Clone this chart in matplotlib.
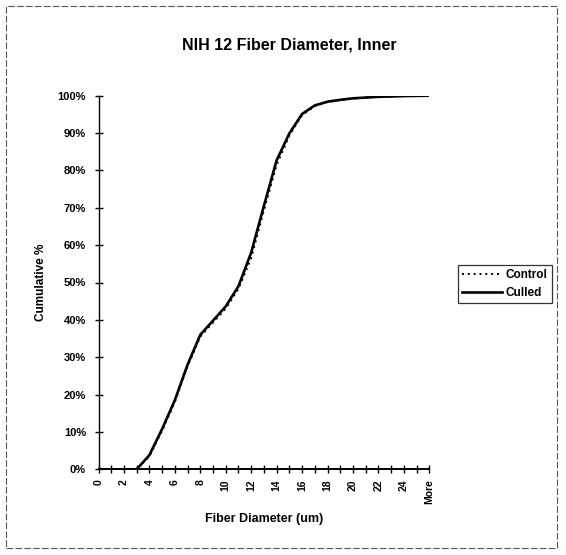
import matplotlib
matplotlib.use('Agg')
import matplotlib.pyplot as plt
from matplotlib.patches import Rectangle
from matplotlib.ticker import FuncFormatter

# bins of the histogram (Excel category axis) and cumulative percentages
categories = [str(i) for i in range(26)] + ['More']
control = [0, 0, 0, 0, 3.5, 10.3, 18.0, 27.5, 35.5, 39.3, 43.0, 48.3, 56.5, 69.3,
           81.5, 89.3, 94.8, 97.2, 98.3, 98.8, 99.2, 99.5, 99.7, 99.8, 99.9, 99.95, 100]
culled = [0, 0, 0, 0, 3.8, 10.8, 18.5, 28.0, 36.0, 39.8, 43.6, 49.0, 58.0, 70.5,
          82.7, 89.9, 95.1, 97.4, 98.4, 98.9, 99.3, 99.5, 99.7, 99.8, 99.9, 99.95, 100]
yticks = list(range(0, 101, 10))

plt.rcParams['font.family'] = ['Liberation Sans', 'DejaVu Sans']
plt.rcParams['font.weight'] = 'bold'

fig = plt.figure(figsize=(5.66, 5.55), dpi=100)
ax = fig.add_axes([98.5 / 566, 1 - 469.3 / 555, (429.3 - 98.5) / 566, (469.3 - 95.7) / 555])

x = list(range(len(categories)))
ax.plot(x, control, color='black', lw=1.4, ls=(0, (1, 2)), label='Control')
ax.plot(x, culled, color='black', lw=1.9, label='Culled')

ax.set_xlim(0, len(categories) - 1)
ax.set_ylim(0, 100)
ax.set_xticks(x)
ax.set_xticklabels([c if i % 2 == 0 else '' for i, c in enumerate(categories)],
                   rotation=90, fontsize=7.5, fontweight='bold')
ax.set_yticks(yticks)
ax.yaxis.set_major_formatter(FuncFormatter(lambda v, p: '%d%%' % v))
ax.tick_params(axis='x', direction='inout', length=6, width=1, pad=4)
ax.tick_params(axis='y', direction='inout', length=6, width=1, labelsize=8, pad=6)
for lab in ax.get_yticklabels():
    lab.set_fontweight('bold')

for s in ['top', 'right']:
    ax.spines[s].set_visible(False)
ax.spines['left'].set_linewidth(1)
ax.spines['bottom'].set_linewidth(1.4)

ax.set_xlabel('Fiber Diameter (um)', fontsize=9, fontweight='bold')
ax.xaxis.set_label_coords((264 - 98.5) / 330.8, -(519 - 469.3) / 373.6)
ax.set_ylabel('Cumulative %', fontsize=8.5, fontweight='bold')
ax.yaxis.set_label_coords((40.7 - 98.5) / 330.8, (469.3 - 282.5) / 373.6)
ax.xaxis.label.set_va('center')
ax.yaxis.label.set_va('center')
fig.text(289 / 566, 1 - 45 / 555, 'NIH 12 Fiber Diameter, Inner', ha='center', va='center',
         fontsize=11.5, fontweight='bold')

leg = fig.legend(loc='center', bbox_to_anchor=(505 / 566, 1 - 284 / 555), fontsize=8.5,
                 frameon=True, fancybox=False, handlelength=3.4, handletextpad=0.3,
                 borderpad=0.35, labelspacing=0.45)
leg.get_frame().set_edgecolor('black')
leg.get_frame().set_linewidth(0.9)

# outer chart border
fig.patches.append(Rectangle((6 / 566, 1 - 548 / 555), 551 / 566, 542 / 555,
                             transform=fig.transFigure, fill=False, edgecolor='#555555',
                             lw=0.8, ls=(0, (6, 2))))

fig.savefig('out.png', dpi=100)
